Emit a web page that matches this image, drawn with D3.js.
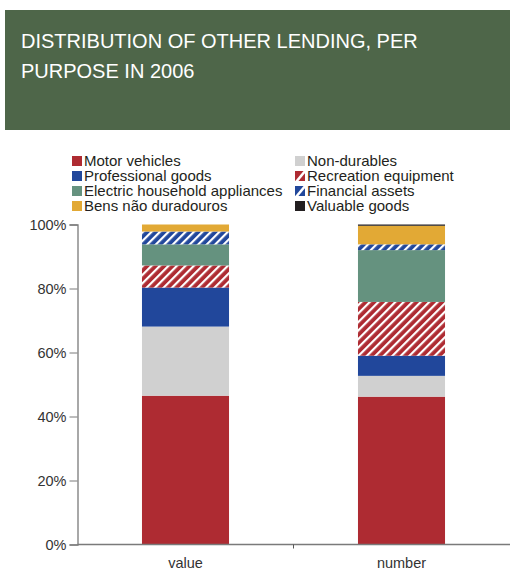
<!DOCTYPE html>
<html>
<head>
<meta charset="utf-8">
<script src="https://cdn.jsdelivr.net/npm/d3@7"></script>
<style>
html,body{margin:0;padding:0;background:#fff;}
svg{display:block;font-family:"Liberation Sans",Arial,sans-serif;}
</style>
</head>
<body>
<svg id="chart" width="510" height="571"></svg>
<script>
const categories = ["value", "number"];
const seriesNames = ["Motor vehicles", "Non-durables", "Professional goods", "Recreation equipment",
  "Electric household appliances", "Financial assets", "Bens não duradouros", "Valuable goods"];
const motorVehicles = [46.5, 46.2];
const nonDurables = [21.6, 6.5];
const professionalGoods = [12.2, 6.3];
const recreationEquipment = [6.9, 16.8];
const electricAppliances = [6.6, 16.2];
const financialAssets = [4.0, 1.8];
const bensNaoDuradouros = [2.2, 5.8];
const valuableGoods = [0.0, 0.4];
const yTicks = [0, 20, 40, 60, 80, 100];
const titleLines = ["DISTRIBUTION OF OTHER LENDING, PER", "PURPOSE IN 2006"];

const seriesValues = [motorVehicles, nonDurables, professionalGoods, recreationEquipment,
  electricAppliances, financialAssets, bensNaoDuradouros, valuableGoods];
const colors = ["#AE2B32", "#D0D0D0", "#21479B", "url(#hatchRed)", "#65927F", "url(#hatchBlue)", "#E2A935", "#231F20"];
const swatchBase = ["#AE2B32", "#D0D0D0", "#21479B", "#AE2B32", "#65927F", "#21479B", "#E2A935", "#231F20"];
const hatched = [false, false, false, true, false, true, false, false];

const svg = d3.select("#chart");
const defs = svg.append("defs");
function hatch(id, col) {
  const p = defs.append("pattern").attr("id", id).attr("patternUnits", "userSpaceOnUse")
    .attr("width", 6).attr("height", 6).attr("patternTransform", "rotate(45)");
  p.append("rect").attr("width", 6).attr("height", 6).attr("fill", col);
  p.append("rect").attr("x", 0).attr("y", 0).attr("width", 2.2).attr("height", 6).attr("fill", "#fff");
}
hatch("hatchRed", "#AE2B32");
hatch("hatchBlue", "#21479B");

// header
svg.append("rect").attr("x", 5).attr("y", 10).attr("width", 505).attr("height", 120).attr("fill", "#4E6649");
svg.append("g").selectAll("text").data(titleLines).join("text")
  .attr("x", 21).attr("y", (d, i) => 48 + i * 30)
  .attr("fill", "#fff").attr("font-size", 20).text(d => d);

// data
const table = categories.map((c, i) => {
  const o = {cat: c};
  seriesNames.forEach((s, j) => o[s] = seriesValues[j][i]);
  return o;
});
const stack = d3.stack().keys(seriesNames)(table);

const x = d3.scaleBand().domain(categories).range([77.5, 509.5]).paddingInner(0.597).paddingOuter(0.2985);
const y = d3.scaleLinear().domain([0, 100]).range([544.5, 224.5]);

svg.append("g").selectAll("g").data(stack).join("g")
  .attr("fill", (d, i) => colors[i])
  .selectAll("rect").data(d => d).join("rect")
  .attr("x", d => x(d.data.cat))
  .attr("width", x.bandwidth())
  .attr("y", d => y(d[1]))
  .attr("height", d => y(d[0]) - y(d[1]));

// axes
const yAxis = svg.append("g").attr("transform", "translate(77.5,0)")
  .call(d3.axisLeft(y).tickValues(yTicks).tickFormat(d => d + "%").tickSize(8).tickPadding(3));
yAxis.select(".domain").attr("stroke", "#7a7a7a").attr("stroke-width", 1.3);
yAxis.selectAll(".tick line").attr("stroke", "#7a7a7a");
yAxis.selectAll(".tick text").attr("font-size", 14.5).attr("fill", "#333").attr("font-family", "Liberation Sans, Arial, sans-serif");

svg.append("line").attr("x1", 77.5).attr("x2", 510).attr("y1", y(0)).attr("y2", y(0))
  .attr("stroke", "#7a7a7a").attr("stroke-width", 1.3);
// tick between categories
svg.append("line").attr("x1", 77.5 + x.step()).attr("x2", 77.5 + x.step())
  .attr("y1", y(0)).attr("y2", y(0) + 4).attr("stroke", "#555");
svg.append("g").selectAll("text").data(categories).join("text")
  .attr("x", d => x(d) + x.bandwidth() / 2).attr("y", 568)
  .attr("text-anchor", "middle").attr("font-size", 14.5).attr("fill", "#333").text(d => d);

// legend
const leg = svg.append("g");
const items = leg.selectAll("g").data(seriesNames).join("g")
  .attr("transform", (d, i) => `translate(${i % 2 === 0 ? 72 : 295},${156 + Math.floor(i / 2) * 15})`);
items.append("rect").attr("width", 10).attr("height", 10).attr("fill", (d, i) => swatchBase[i]);
items.filter((d, i) => hatched[i]).append("line")
  .attr("x1", 1).attr("y1", 11).attr("x2", 11).attr("y2", -1)
  .attr("stroke", "#fff").attr("stroke-width", 2.6);
items.filter((d, i) => hatched[i]).append("rect").attr("x", -1).attr("y", -1).attr("width", 12).attr("height", 12)
  .attr("fill", "none").attr("stroke", "#fff").attr("stroke-width", 2);
items.append("text").attr("x", 12).attr("y", 10).attr("font-size", 15).attr("fill", "#231F20").text(d => d);
</script>
</body>
</html>
